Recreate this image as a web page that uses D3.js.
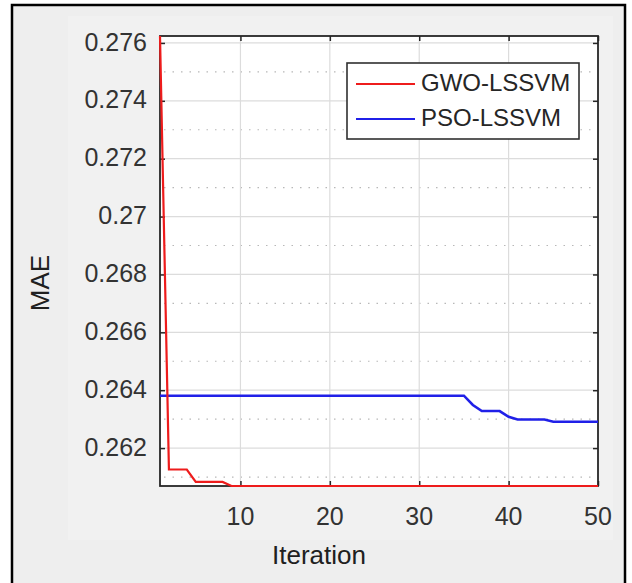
<!DOCTYPE html>
<html>
<head>
<meta charset="utf-8">
<script src="https://cdn.jsdelivr.net/npm/d3@7/dist/d3.min.js"></script>
<style>
  html, body { margin: 0; padding: 0; background: #ffffff; }
  svg { display: block; }
  text { font-family: Arial, "Liberation Sans", Helvetica, sans-serif; }
</style>
</head>
<body>
<svg id="chart" width="632" height="583"></svg>
<script>
// Convergence curves: best MAE per iteration for each optimiser
const iterations = d3.range(1, 51);

const gwoMAE = [
  0.27624, 0.26126, 0.26126, 0.26126, 0.26083, 0.26083, 0.26083, 0.26083, 0.26069, 0.26069,
  0.26069, 0.26069, 0.26069, 0.26069, 0.26069, 0.26069, 0.26069, 0.26069, 0.26069, 0.26069,
  0.26069, 0.26069, 0.26069, 0.26069, 0.26069, 0.26069, 0.26069, 0.26069, 0.26069, 0.26069,
  0.26069, 0.26069, 0.26069, 0.26069, 0.26069, 0.26069, 0.26069, 0.26069, 0.26069, 0.26069,
  0.26069, 0.26069, 0.26069, 0.26069, 0.26069, 0.26069, 0.26069, 0.26069, 0.26069, 0.26069
];

const psoMAE = [
  0.26381, 0.26381, 0.26381, 0.26381, 0.26381, 0.26381, 0.26381, 0.26381, 0.26381, 0.26381,
  0.26381, 0.26381, 0.26381, 0.26381, 0.26381, 0.26381, 0.26381, 0.26381, 0.26381, 0.26381,
  0.26381, 0.26381, 0.26381, 0.26381, 0.26381, 0.26381, 0.26381, 0.26381, 0.26381, 0.26381,
  0.26381, 0.26381, 0.26381, 0.26381, 0.26381, 0.26349, 0.26328, 0.26328, 0.26328, 0.26308,
  0.26299, 0.26299, 0.26299, 0.26299, 0.26291, 0.26291, 0.26291, 0.26291, 0.26291, 0.26291
];

const seriesNames = ["GWO-LSSVM", "PSO-LSSVM"];
const seriesColors = ["#ee1c1c", "#2020e8"];

const xTicks = [10, 20, 30, 40, 50];
const xTickLabels = ["10", "20", "30", "40", "50"];
const yTicks = [0.262, 0.264, 0.266, 0.268, 0.27, 0.272, 0.274, 0.276];
const yTickLabels = ["0.262", "0.264", "0.266", "0.268", "0.27", "0.272", "0.274", "0.276"];
const yMinorTicks = [0.261, 0.263, 0.265, 0.267, 0.269, 0.271, 0.273, 0.275];

const xLabel = "Iteration";
const yLabel = "MAE";

// Layout
const W = 632, H = 583;
const plot = { left: 160, right: 598, top: 36, bottom: 486 };

const svg = d3.select("#chart");

// Figure background and outer frame
svg.append("rect").attr("x", 0).attr("y", 0).attr("width", W).attr("height", H).attr("fill", "#ffffff");
svg.append("rect")
  .attr("x", 12).attr("y", 5).attr("width", 613).attr("height", 600)
  .attr("fill", "#eeeeee").attr("stroke", "#000000").attr("stroke-width", 2.5);
svg.append("rect")
  .attr("x", 68).attr("y", 16).attr("width", 545).attr("height", 524)
  .attr("fill", "#f1f1f1");

// Scales: tight limits around all data
const allValues = gwoMAE.concat(psoMAE);
const x = d3.scaleLinear().domain([1, 50]).range([plot.left, plot.right]);
const y = d3.scaleLinear().domain(d3.extent(allValues)).range([plot.bottom, plot.top]);

// Axes background
svg.append("rect")
  .attr("x", plot.left).attr("y", plot.top)
  .attr("width", plot.right - plot.left).attr("height", plot.bottom - plot.top)
  .attr("fill", "#ffffff");

// Grid
const grid = svg.append("g");
grid.selectAll(".ymin").data(yMinorTicks).join("line")
  .attr("x1", plot.left + 4).attr("x2", plot.right - 4)
  .attr("y1", d => y(d)).attr("y2", d => y(d))
  .attr("stroke", "#b8b8b8").attr("stroke-width", 1.2)
  .attr("stroke-dasharray", "1.5,7");
grid.selectAll(".ymaj").data(yTicks).join("line")
  .attr("x1", plot.left).attr("x2", plot.right)
  .attr("y1", d => y(d)).attr("y2", d => y(d))
  .attr("stroke", "#dcdcdc").attr("stroke-width", 1.2);
grid.selectAll(".xmaj").data(xTicks.filter(d => d < 50)).join("line")
  .attr("x1", d => x(d)).attr("x2", d => x(d))
  .attr("y1", plot.top).attr("y2", plot.bottom)
  .attr("stroke", "#dcdcdc").attr("stroke-width", 1.2);

// Axes using d3 axis generators (inward ticks, labels drawn separately)
const tickLen = 5;
const axisColor = "#262626";
function styleAxis(g) {
  g.select(".domain").remove();
  g.selectAll(".tick line").attr("stroke", axisColor).attr("stroke-width", 1.5);
  g.selectAll(".tick text").remove();
}
svg.append("g").attr("transform", `translate(0,${plot.bottom})`)
  .call(d3.axisBottom(x).tickValues(xTicks).tickSizeInner(-tickLen).tickSizeOuter(0)).call(styleAxis);
svg.append("g").attr("transform", `translate(0,${plot.top})`)
  .call(d3.axisTop(x).tickValues(xTicks).tickSizeInner(-tickLen).tickSizeOuter(0)).call(styleAxis);
svg.append("g").attr("transform", `translate(${plot.left},0)`)
  .call(d3.axisLeft(y).tickValues(yTicks).tickSizeInner(-tickLen).tickSizeOuter(0)).call(styleAxis);
svg.append("g").attr("transform", `translate(${plot.right},0)`)
  .call(d3.axisRight(y).tickValues(yTicks).tickSizeInner(-tickLen).tickSizeOuter(0)).call(styleAxis);

// Box
svg.append("rect")
  .attr("x", plot.left).attr("y", plot.top)
  .attr("width", plot.right - plot.left).attr("height", plot.bottom - plot.top)
  .attr("fill", "none").attr("stroke", axisColor).attr("stroke-width", 1.8);

// Tick labels
svg.append("g").selectAll("text").data(yTicks).join("text")
  .attr("x", plot.left - 13).attr("y", d => y(d) + 1)
  .attr("text-anchor", "end").attr("dominant-baseline", "middle")
  .attr("font-size", 25).attr("fill", "#333333")
  .text((d, i) => yTickLabels[i]);
svg.append("g").selectAll("text").data(xTicks).join("text")
  .attr("x", d => x(d)).attr("y", 518)
  .attr("text-anchor", "middle").attr("dominant-baseline", "middle")
  .attr("font-size", 25).attr("fill", "#333333")
  .text((d, i) => xTickLabels[i]);

// Axis labels
svg.append("text")
  .attr("x", 319).attr("y", 557)
  .attr("text-anchor", "middle").attr("dominant-baseline", "middle")
  .attr("font-size", 26).attr("fill", "#202020")
  .text(xLabel);
svg.append("text")
  .attr("transform", "translate(42,283) rotate(-90)")
  .attr("text-anchor", "middle").attr("dominant-baseline", "middle")
  .attr("font-size", 26).attr("fill", "#202020")
  .text(yLabel);

// Curves
const line = d3.line().x((d, i) => x(iterations[i])).y(d => y(d));
svg.append("path").datum(psoMAE)
  .attr("d", line).attr("fill", "none")
  .attr("stroke", seriesColors[1]).attr("stroke-width", 2.6);
svg.append("path").datum(gwoMAE)
  .attr("d", line).attr("fill", "none")
  .attr("stroke", seriesColors[0]).attr("stroke-width", 2.2);

// Legend
const legend = svg.append("g").attr("transform", "translate(347,63)");
legend.append("rect")
  .attr("x", 0).attr("y", 0).attr("width", 232).attr("height", 76)
  .attr("fill", "#ffffff").attr("stroke", "#303030").attr("stroke-width", 1.6);
seriesNames.forEach((name, i) => {
  const ly = 21 + i * 35;
  legend.append("line")
    .attr("x1", 9).attr("x2", 68).attr("y1", ly).attr("y2", ly)
    .attr("stroke", seriesColors[i]).attr("stroke-width", 2.2);
  legend.append("text")
    .attr("x", 74).attr("y", ly + 1)
    .attr("dominant-baseline", "middle")
    .attr("font-size", 24).attr("fill", "#262626")
    .text(name);
});
</script>
</body>
</html>
